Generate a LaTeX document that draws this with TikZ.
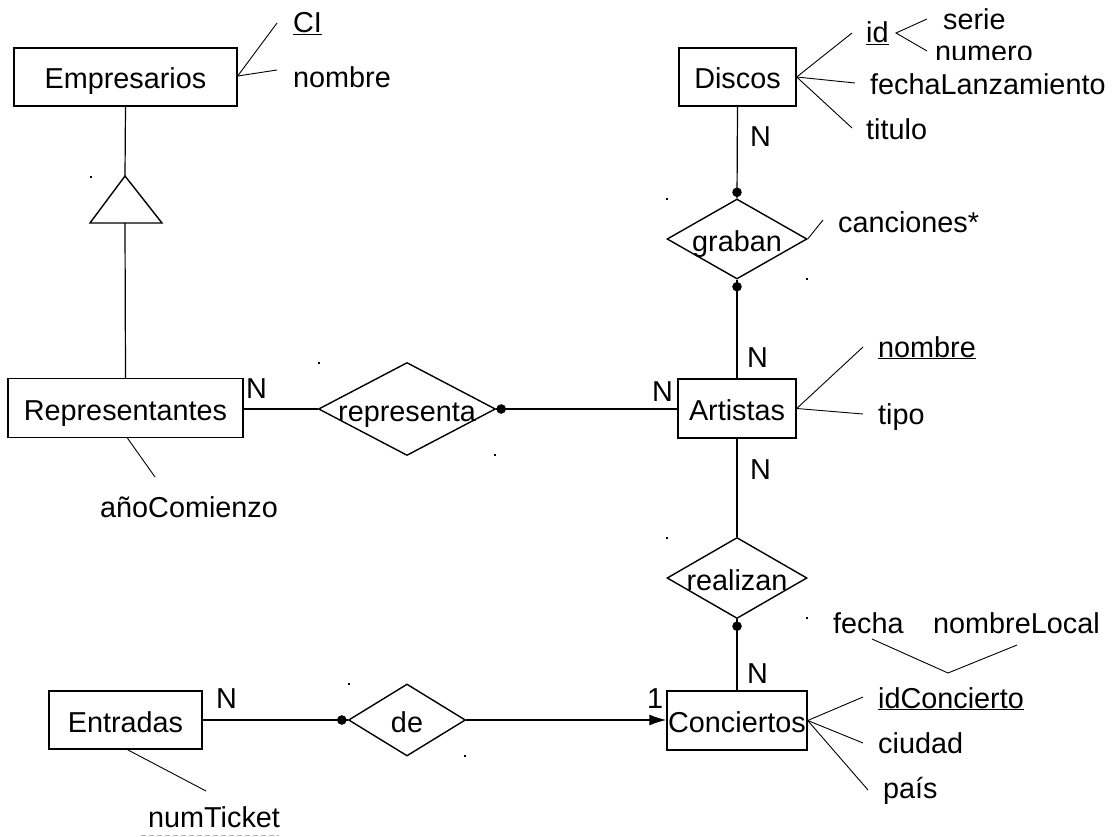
\documentclass[tikz,border=0pt]{standalone}
\usepackage{fontspec}
\setmainfont{Liberation Sans}
\usetikzlibrary{shapes.geometric,arrows.meta}
\newcommand\erfont{\fontsize{28.8}{34}\selectfont}

\begin{document}
\begin{tikzpicture}[x=1pt,y=-1pt,
  entity/.style={draw, line width=1.4pt, rectangle, inner sep=0pt, font=\erfont,
                 text height=24pt, text depth=0pt},
  relation/.style={draw, line width=1.4pt, diamond, inner sep=0pt, font=\erfont,
                   text height=24pt, text depth=0pt},
  attr/.style={font=\erfont, inner sep=0pt, anchor=base west},
  card/.style={font=\erfont, inner sep=0pt, anchor=base west},
  link/.style={line width=1.2pt},
  attrline/.style={line width=0.9pt},
]
\useasboundingbox (0,0) rectangle (1113,837);

% ---------- entities ----------
\node[entity, minimum width=223pt, minimum height=58pt] (emp)  at (125.5,77)  {Empresarios};
\node[entity, minimum width=117pt, minimum height=58pt] (disc) at (737.5,77)  {Discos};
\node[entity, minimum width=235pt, minimum height=59pt] (repr) at (125.5,408) {Representantes};
\node[entity, minimum width=118pt, minimum height=59pt] (art)  at (737,408.5) {Artistas};
\node[entity, minimum width=140pt, minimum height=59pt] (conc) at (737,720.5) {Conciertos};
\node[entity, minimum width=153pt, minimum height=58pt] (ent)  at (125.5,720) {Entradas};

% ---------- relationships ----------
\node[relation, minimum width=140pt, minimum height=80pt] (grab) at (737,239) {\makebox[0pt]{graban}};
\node[relation, minimum width=177pt, minimum height=93pt] (rep)  at (407,409) {\makebox[0pt]{representa}};
\node[relation, minimum width=140pt, minimum height=81pt] (real) at (737,578) {\makebox[0pt]{realizan}};
\node[relation, minimum width=117pt, minimum height=72pt] (de)   at (407,720) {\makebox[0pt]{de}};

% ---------- generalisation triangle ----------
\coordinate (isa)  at (125,176);
\coordinate (isaL) at (90,223);
\coordinate (isaR) at (162,223);
\coordinate (isaB) at (125,223);
\draw[line width=1.4pt, line join=miter] (isa) -- (isaL) -- (isaR) -- cycle;
\draw[link] (emp.south) -- (isa);
\draw[link] (isaB) -- (repr.north);

% ---------- relationship links ----------
\draw[link] (disc.south) -- (grab.north);
\draw[link] (grab.south) -- (art.north);
\draw[link] (repr.east |- rep.west) -- (rep.west);
\draw[link] (rep.east) -- (rep.east -| art.west);
\draw[link] (art.south) -- (real.north);
\draw[link] (real.south) -- (conc.north);
\draw[link] (ent.east) -- (de.west);
\draw[link, -{Latex[length=17pt,width=11pt]}] (de.east) -- (de.east -| conc.west);

% participation dots
\fill ([yshift=6pt]grab.north)  circle (4.8pt);
\fill ([yshift=-7pt]grab.south) circle (4.8pt);
\fill ([xshift=5pt]rep.east)    circle (4.8pt);
\fill ([yshift=-7pt]real.south) circle (4.8pt);
\fill ([xshift=-6pt]de.west)    circle (4.8pt);

% corner specks of the shape frames
\foreach \r in {grab,rep,real,de}{
  \fill (\r.north -| \r.west) rectangle ++(1.8,1.8);
  \fill (\r.south -| \r.east) rectangle ++(-1.8,-1.8);
}
\fill (isaL |- isa) rectangle ++(1.8,1.8);

% ---------- cardinalities ----------
\node[card] (nRep)  at (246,398) {N};
\node[card] (nArtL) at (652,401) {N};
\node[card] (nArtT) at (747,367) {N};
\node[card] (nArtB) at (750,479) {N};
\node[card] (nDisc) at (750,147) {N};
\node[card] (nConc) at (747,683) {N};
\node[card] (nEnt)  at (216,708) {N};
\node[card] (oneC)  at (647,708) {1};

% ---------- attributes: Empresarios ----------
\node[attr] (ci)   at (293,33) {\underline{CI}};
\node[attr] (nomE) at (293,88) {nombre};
\coordinate (ciL)   at (277,23);
\coordinate (nomEL) at (277,70);
\draw[attrline] ([yshift=1pt]emp.east) -- (ciL);
\draw[attrline] ([yshift=1pt]emp.east) -- (nomEL);

% ---------- attributes: Discos ----------
\node[attr] (id)    at (866,43)  {\underline{id}};
\node[attr] (serie) at (943,30)  {serie};
\begin{scope}
  \clip (900,0) rectangle (1113,59.5);
  \node[attr] (num) at (935,62) {numero};
\end{scope}
\node[attr] (fecL)  at (870,95)  {fechaLanzamiento};
\node[attr] (tit)   at (866,140) {titulo};
\coordinate (idL)  at (852,33);
\coordinate (fecLL) at (855,83);
\coordinate (titL) at (852,128);
\draw[attrline] (disc.east) -- (idL);
\draw[attrline] (disc.east) -- (fecLL);
\draw[attrline] (disc.east) -- (titL);
\coordinate (idR)   at (896,33);
\coordinate (serL)  at (927,19);
\coordinate (numL)  at (927,51);
\draw[attrline] (serL) -- (idR) -- (numL);

% ---------- attribute: graban ----------
\node[attr] (canc) at (838,232) {canciones*};
\coordinate (cancL) at (823,220);
\draw[attrline] (grab.east) -- (cancL);

% ---------- attributes: Artistas ----------
\node[attr] (nomA) at (878,357) {\underline{nombre}};
\node[attr] (tipo) at (878,424) {tipo};
\coordinate (nomAL) at (863,347);
\coordinate (tipoL) at (863,414);
\draw[attrline] (art.east) -- (nomAL);
\draw[attrline] (art.east) -- (tipoL);

% ---------- attributes: Representantes ----------
\node[attr] (anio) at (100,517) {añoComienzo};
\coordinate (anioL) at (155,477);
\draw[attrline] ([xshift=2pt]repr.south) -- (anioL);

% ---------- attributes: Conciertos ----------
\node[attr] (fecha) at (833,633) {fecha};
\node[attr] (local) at (933,633) {nombreLocal};
\coordinate (fechaB) at (872,639);
\coordinate (joinB)  at (948,673);
\coordinate (localB) at (1017,645);
\draw[attrline] (fechaB) -- (joinB) -- (localB);

\node[attr] (idC)  at (878,708) {\underline{idConcierto}};
\node[attr] (ciu)  at (878,753) {ciudad};
\node[attr] (pais) at (883,798) {país};
\coordinate (idCL)  at (863,697);
\coordinate (ciuL)  at (863,743);
\coordinate (paisL) at (868,790);
\draw[attrline] (conc.east) -- (idCL);
\draw[attrline] (conc.east) -- (ciuL);
\draw[attrline] (conc.east) -- (paisL);

% ---------- attribute: Entradas ----------
\node[attr] (tk) at (148,827) {numTicket};
\coordinate (tkL) at (206,791);
\draw[attrline] ([xshift=2pt]ent.south) -- (tkL);
\draw[gray!60, line width=1pt, dash pattern=on 5pt off 3pt]
  ([xshift=-7pt,yshift=-8pt]tk.base west) -- ([xshift=-1pt,yshift=-8pt]tk.base east);
\end{tikzpicture}
\end{document}
